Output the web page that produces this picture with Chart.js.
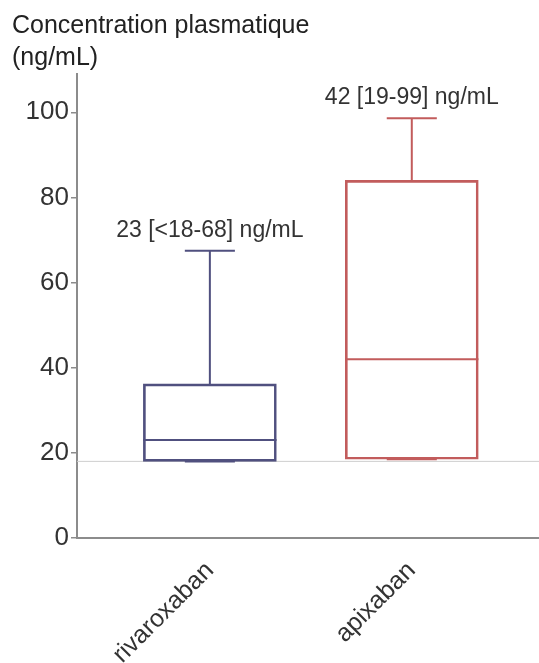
<!DOCTYPE html>
<html>
<head>
<meta charset="utf-8">
<script src="https://cdn.jsdelivr.net/npm/chart.js@4"></script>
<style>
  html, body { margin: 0; padding: 0; background: #fff; }
  #wrap { width: 539px; height: 663px; }
</style>
</head>
<body>
<div id="wrap"><canvas id="myChart" width="539" height="663"></canvas></div>
<script>
// box plot values (ng/mL)
const drugs = ["rivaroxaban", "apixaban"];
const positions = [1, 2];
const whiskerLow = [18, 18.5];
const q1 = [18, 18.5];
const median = [23, 42];
const q3 = [36.2, 84];
const whiskerHigh = [67.5, 98.6];
const labels = ["23 [<18-68] ng/mL", "42 [19-99] ng/mL"];
const colors = ["#50507f", "#c25c5c"];
const limitLoq = 18;
const yTicks = [0, 20, 40, 60, 80, 100];

const xMin = 0.342, xMax = 2.63;
const capHalf = 0.124;
const boxHalf = 0.33;

// draws medians, whiskers and the text above each box
const boxExtras = {
    id: "boxExtras",
    afterDatasetsDraw(chart) {
        const ctx = chart.ctx;
        const x = chart.scales.x, y = chart.scales.y;
        ctx.save();
        ctx.lineWidth = 2;
        for (let i = 0; i < drugs.length; i++) {
            const cx = x.getPixelForValue(positions[i]);
            const l = x.getPixelForValue(positions[i] - capHalf);
            const r = x.getPixelForValue(positions[i] + capHalf);
            const bl = x.getPixelForValue(positions[i] - boxHalf);
            const br = x.getPixelForValue(positions[i] + boxHalf);
            ctx.strokeStyle = colors[i];
            ctx.beginPath();
            // median
            ctx.moveTo(bl, y.getPixelForValue(median[i]));
            ctx.lineTo(br, y.getPixelForValue(median[i]));
            // upper whisker + cap
            ctx.moveTo(cx, y.getPixelForValue(q3[i]));
            ctx.lineTo(cx, y.getPixelForValue(whiskerHigh[i]));
            ctx.moveTo(l, y.getPixelForValue(whiskerHigh[i]));
            ctx.lineTo(r, y.getPixelForValue(whiskerHigh[i]));
            // lower cap
            ctx.moveTo(l, y.getPixelForValue(whiskerLow[i]));
            ctx.lineTo(r, y.getPixelForValue(whiskerLow[i]));
            ctx.stroke();

            ctx.fillStyle = "#333";
            ctx.font = "23px 'Liberation Sans', Arial, sans-serif";
            ctx.textAlign = "center";
            ctx.textBaseline = "alphabetic";
            ctx.fillText(labels[i], cx, y.getPixelForValue(whiskerHigh[i]) - 14);
        }
        ctx.restore();
    }
};

const myChart = new Chart(document.getElementById("myChart"), {
    data: {
        datasets: [{
            type: "line",
            data: [{x: xMin, y: limitLoq}, {x: xMax, y: limitLoq}],
            borderColor: "#cfcfcf",
            borderWidth: 1,
            pointRadius: 0,
            order: 2
        }, {
            type: "bar",
            data: positions.map((p, i) => ({x: p, y: [q1[i], q3[i]]})),
            backgroundColor: "rgba(255,255,255,0)",
            borderColor: colors,
            borderWidth: 2,
            borderSkipped: false,
            barThickness: 133,
            order: 1
        }]
    },
    plugins: [boxExtras],
    options: {
        responsive: false,
        animation: false,
        layout: {padding: {left: 12, right: 0, top: 0, bottom: 0}},
        plugins: {
            legend: {display: false},
            tooltip: {enabled: false},
            title: {
                display: true,
                text: ["Concentration plasmatique", "(ng/mL)"],
                align: "start",
                color: "#222",
                font: {family: "'Liberation Sans', Arial, sans-serif", size: 25, weight: "normal", lineHeight: 1.28},
                padding: {top: 10, bottom: 0}
            }
        },
        scales: {
            x: {
                type: "linear",
                offset: false,
                min: xMin,
                max: xMax,
                afterBuildTicks: (scale) => { scale.ticks = positions.map(v => ({value: v})); },
                afterFit: (scale) => { scale.height = 125; },
                grid: {display: false, drawTicks: false, offset: false},
                border: {display: true, color: "#8c8c8c", width: 2},
                ticks: {
                    callback: (v) => drugs[positions.indexOf(v)],
                    minRotation: 45,
                    maxRotation: 45,
                    padding: 18,
                    color: "#333",
                    font: {family: "'Liberation Sans', Arial, sans-serif", size: 25}
                }
            },
            y: {
                min: 0,
                max: 109,
                afterBuildTicks: (scale) => { scale.ticks = yTicks.map(v => ({value: v})); },
                afterFit: (scale) => { scale.width = 65; },
                grid: {drawOnChartArea: false, drawTicks: true, tickLength: 6, color: "#8c8c8c", lineWidth: 1.5},
                border: {display: true, color: "#8c8c8c", width: 2},
                ticks: {
                    padding: 2,
                    color: "#333",
                    font: {family: "'Liberation Sans', Arial, sans-serif", size: 26}
                }
            }
        }
    }
});
</script>
</body>
</html>
